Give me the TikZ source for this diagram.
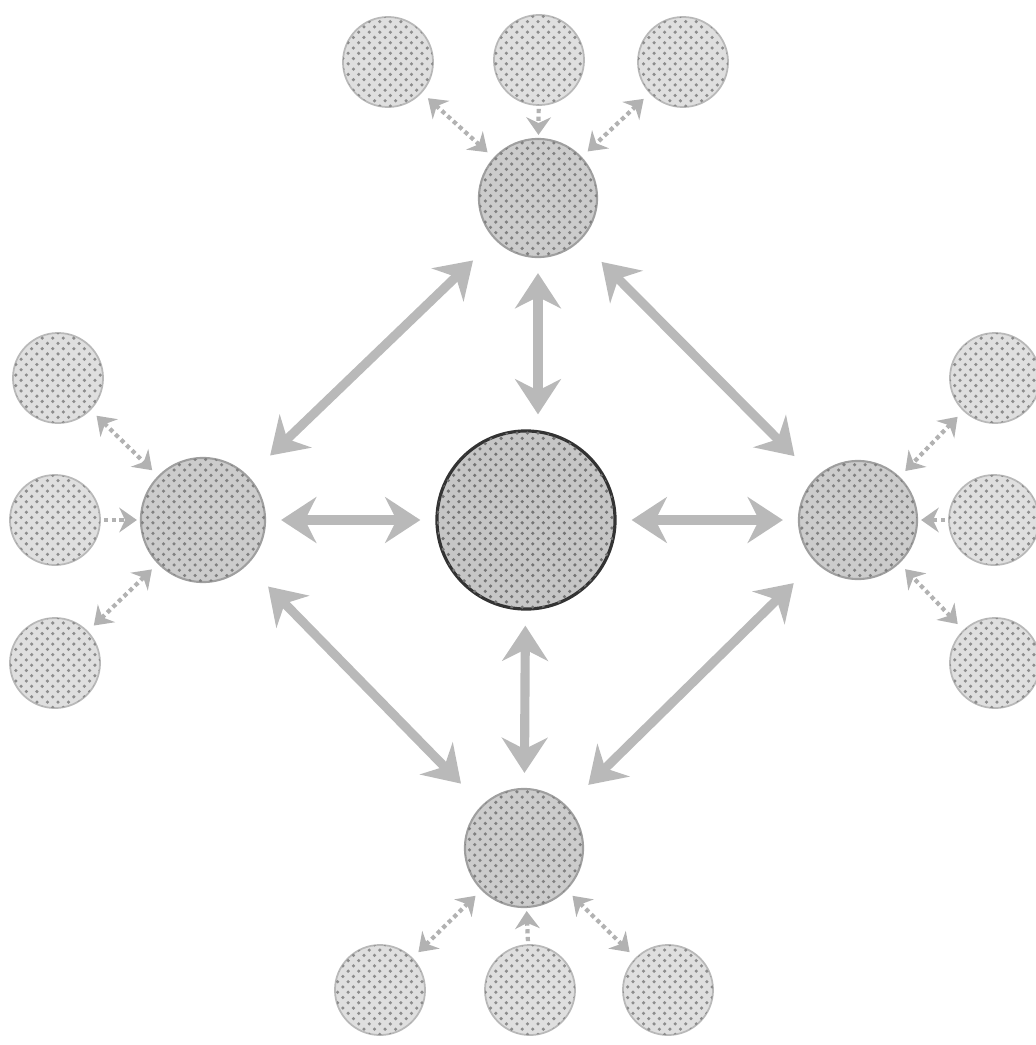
\documentclass[tikz,border=0pt]{standalone}
\usetikzlibrary{arrows.meta,patterns}
\begin{document}
\begin{tikzpicture}[x=0.01cm,y=-0.01cm,
  hub/.style={circle,inner sep=0pt,minimum size=1.78cm,fill=gray!45,draw=black!80,line width=0.9pt,
    postaction={pattern=crosshatch dots,pattern color=black!55}},
  mid/.style={circle,inner sep=0pt,minimum size=1.18cm,fill=gray!40,draw=gray!75,line width=0.6pt,
    postaction={pattern=crosshatch dots,pattern color=black!50}},
  sat/.style={circle,inner sep=0pt,minimum size=0.9cm,fill=gray!25,draw=gray!55,line width=0.5pt,
    postaction={pattern=crosshatch dots,pattern color=black!45}},
  bigarrow/.style={{Stealth[length=10pt,width=13pt]}-{Stealth[length=10pt,width=13pt]},
    line width=2.6pt,draw=gray!55,shorten <=#1,shorten >=#1},
  bigarrow/.default=0.15cm,
  satarrow/.style={{Stealth[length=5pt,width=7pt]}-{Stealth[length=5pt,width=7pt]},
    line width=1.2pt,draw=gray!60,densely dotted,shorten <=#1,shorten >=#1},
  satarrow/.default=0.08cm,
  satpush/.style={satarrow=0.03cm,-{Stealth[length=5pt,width=7pt]}}]

\useasboundingbox (0,0) rectangle (1035,1045);

% Hub and the four groups
\node[hub] (hub) at (526,520) {};
\node[mid] (top) at (538,198) {};
\node[mid,minimum size=1.24cm] (left) at (203,520) {};
\node[mid] (right) at (858,520) {};
\node[mid] (bottom) at (524,848) {};

% Satellites
\foreach \name/\x/\y in {t1/388/62, t2/539/60, t3/683/62,
                         l1/58/378, l2/55/520, l3/55/663,
                         r1/995/378, r2/994/520, r3/995/663,
                         b1/380/990, b2/530/990, b3/668/990}
  \node[sat] (\name) at (\x,\y) {};

% Satellite links
\draw[satarrow] (t1) -- (top);
\draw[satpush] (t2) -- (top);
\draw[satarrow] (t3) -- (top);
\draw[satarrow] (l1) -- (left);
\draw[satpush] (l2) -- (left);
\draw[satarrow] (l3) -- (left);
\draw[satarrow] (r1) -- (right);
\draw[satpush] (r2) -- (right);
\draw[satarrow] (r3) -- (right);
\draw[satarrow] (b1) -- (bottom);
\draw[satpush] (b2) -- (bottom);
\draw[satarrow] (b3) -- (bottom);

% Links to the hub
\draw[bigarrow] (top) -- (top |- hub.north);
\draw[bigarrow] (left) -- (hub);
\draw[bigarrow] (right) -- (hub);
\draw[bigarrow] (bottom) -- (hub);

% Ring of the four groups
\draw[bigarrow=0.3cm] (top) -- (left);
\draw[bigarrow=0.3cm] (top) -- (right);
\draw[bigarrow=0.3cm] (bottom) -- (left);
\draw[bigarrow=0.3cm] (bottom) -- (right);

\end{tikzpicture}
\end{document}
